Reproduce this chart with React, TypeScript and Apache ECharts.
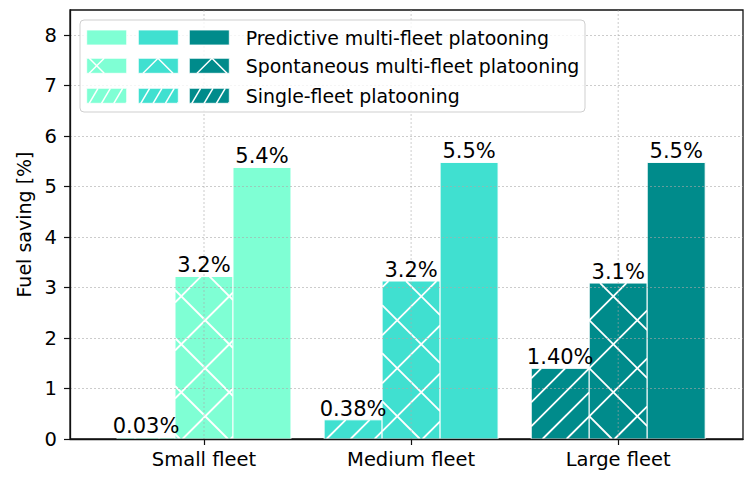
import React, { useEffect, useRef } from "react";
import * as echarts from "echarts";

// ---------- data ----------
const categories = ["Small fleet", "Medium fleet", "Large fleet"];
const categoryColors = ["#7FFFD4", "#40E0D0", "#008B8B"];
const seriesNames = [
  "Predictive multi-fleet platooning",
  "Spontaneous multi-fleet platooning",
  "Single-fleet platooning",
];
const singleFleet = [0.03, 0.38, 1.4];
const spontaneous = [3.22, 3.13, 3.09];
const predictive = [5.38, 5.48, 5.48];
const singleLabels = ["0.03%", "0.38%", "1.40%"];
const spontaneousLabels = ["3.2%", "3.2%", "3.1%"];
const predictiveLabels = ["5.4%", "5.5%", "5.5%"];
const yTicks = [0, 1, 2, 3, 4, 5, 6, 7, 8];
const yMax = 8.5;

// ---------- style ----------
const FONT = '"DejaVu Sans", sans-serif';
const BAR_FRACTION = 0.28;
const GRID_COLOR = "rgba(170,170,170,0.75)";
const AXIS_COLOR = "#111";

type HatchSpec = { dir: 1 | -1; k: number; step: number; anchor: number };
const SLASH_HATCH: HatchSpec[] = [{ dir: 1, k: 1, step: 24, anchor: 21.5 }];
const CROSS_HATCH: HatchSpec[] = [
  { dir: 1, k: 1, step: 48, anchor: 45.5 },
  { dir: -1, k: 1, step: 48, anchor: -19 },
];

function hatchLines(
  x0: number, y0: number, x1: number, y1: number,
  dir: 1 | -1, k: number, step: number, anchor: number
): number[][] {
  const segs: number[][] = [];
  if (y1 - y0 <= 0 || x1 - x0 <= 0) return segs;
  if (dir === 1) {
    const cMin = x0 + y0 / k, cMax = x1 + y1 / k;
    let c = anchor + Math.ceil((cMin - anchor) / step) * step;
    for (; c <= cMax; c += step) {
      const ya = Math.max(y0, k * (c - x1));
      const yb = Math.min(y1, k * (c - x0));
      if (yb > ya) segs.push([c - ya / k, ya, c - yb / k, yb]);
    }
  } else {
    const cMin = x0 - y1 / k, cMax = x1 - y0 / k;
    let c = anchor + Math.ceil((cMin - anchor) / step) * step;
    for (; c <= cMax; c += step) {
      const ya = Math.max(y0, k * (x0 - c));
      const yb = Math.min(y1, k * (x1 - c));
      if (yb > ya) segs.push([c + ya / k, ya, c + yb / k, yb]);
    }
  }
  return segs;
}

function barGeom(api: any, g: number) {
  const i = api.value(0) as number;
  const v = api.value(1) as number;
  const base = api.coord([i, 0]);
  const top = api.coord([i, v]);
  const band = api.coord([1, 0])[0] - api.coord([0, 0])[0];
  const w = band * BAR_FRACTION;
  const cx = base[0] + (g - 1) * w;
  return { i, cx, x0: cx - w / 2, x1: cx + w / 2, y0: top[1], y1: base[1], w };
}

function barSeries(g: number, values: number[], hatch: HatchSpec[]) {
  return {
    type: "custom",
    xAxisIndex: 1,
    yAxisIndex: 1,
    z: 2,
    silent: true,
    data: values.map((v, i) => [i, v]),
    encode: { x: 0, y: 1 },
    renderItem: (_params: any, api: any) => {
      const b = barGeom(api, g);
      const children: any[] = [
        {
          type: "rect",
          shape: { x: b.x0, y: b.y0, width: b.w, height: b.y1 - b.y0 },
          style: { fill: categoryColors[b.i], stroke: "#ffffff", lineWidth: 1 },
        },
      ];
      for (const h of hatch) {
        for (const s of hatchLines(b.x0, b.y0, b.x1, b.y1, h.dir, h.k, h.step, h.anchor)) {
          children.push({
            type: "line",
            shape: { x1: s[0], y1: s[1], x2: s[2], y2: s[3] },
            style: { stroke: "#ffffff", lineWidth: 1.8 },
          });
        }
      }
      return { type: "group", children };
    },
  };
}

function labelSeries(g: number, values: number[], labels: string[]) {
  return {
    type: "custom",
    xAxisIndex: 1,
    yAxisIndex: 1,
    z: 4,
    silent: true,
    data: values.map((v, i) => [i, v]),
    encode: { x: 0, y: 1 },
    renderItem: (params: any, api: any) => {
      const b = barGeom(api, g);
      return {
        type: "text",
        x: b.cx,
        y: b.y0 - 0.5,
        style: {
          text: labels[params.dataIndex],
          fill: "#000",
          fontSize: 21,
          fontFamily: FONT,
          align: "center",
          verticalAlign: "bottom",
        },
      };
    },
  };
}

function buildLegend() {
  const els: any[] = [];
  els.push({
    type: "rect",
    z: 10,
    shape: { x: 80, y: 20, width: 505, height: 92, r: 4 },
    style: { fill: "rgba(255,255,255,0.8)", stroke: "#cfcfcf", lineWidth: 1 },
  });
  const colX = [86.7, 138.3, 189.3];
  const rowY = [30, 58.3, 88.3];
  const sw = 40, sh = 15;
  const crossAnchors = [[10, 7.5], [19.7, 0], [22.7, 0]];
  for (let r = 0; r < 3; r++) {
    for (let c = 0; c < 3; c++) {
      const X = colX[c], Y = rowY[r];
      els.push({
        type: "rect",
        z: 10,
        shape: { x: X, y: Y, width: sw, height: sh },
        style: { fill: categoryColors[c], stroke: "#ffffff", lineWidth: 0.8 },
      });
      let specs: HatchSpec[] = [];
      if (r === 1) {
        const px = X + crossAnchors[c][0], py = Y + crossAnchors[c][1];
        specs = [
          { dir: 1, k: 1, step: 48, anchor: px + py },
          { dir: -1, k: 1, step: 48, anchor: px - py },
        ];
      } else if (r === 2) {
        specs = [{ dir: 1, k: 1.7, step: 12.3, anchor: X + 2.5 + (Y + sh) / 1.7 }];
      }
      for (const h of specs) {
        for (const s of hatchLines(X, Y, X + sw, Y + sh, h.dir, h.k, h.step, h.anchor)) {
          els.push({
            type: "line",
            z: 11,
            shape: { x1: s[0], y1: s[1], x2: s[2], y2: s[3] },
            style: { stroke: "#ffffff", lineWidth: 1.5 },
          });
        }
      }
    }
    els.push({
      type: "text",
      z: 11,
      x: 245.7,
      y: rowY[r] + sh / 2 + 0.5,
      style: {
        text: seriesNames[r],
        fill: "#000",
        fontSize: 18.9,
        fontFamily: FONT,
        verticalAlign: "middle",
      },
    });
  }
  return els;
}

function buildOption() {
  return {
    animation: false,
    textStyle: { fontFamily: FONT },
    grid: [
      {
        left: 70, right: 5, top: 10, bottom: 40,
        show: true, borderColor: AXIS_COLOR, borderWidth: 1.3,
        backgroundColor: "transparent",
        containLabel: false, outerBoundsMode: "none",
      },
      {
        left: 100.45, right: 26.25, top: 10, bottom: 40,
        containLabel: false, outerBoundsMode: "none",
      },
    ],
    xAxis: [
      {
        type: "value", gridIndex: 0, min: 0, max: 1, z: 5,
        axisLine: { show: true, lineStyle: { color: AXIS_COLOR, width: 1.3 } },
        axisTick: { show: false },
        axisLabel: { show: false },
        splitLine: { show: false },
      },
      {
        type: "category", gridIndex: 1, data: categories, boundaryGap: true,
        axisLine: { show: false },
        axisTick: { show: true, alignWithLabel: true, length: 6, lineStyle: { color: AXIS_COLOR, width: 1.2 } },
        axisLabel: { fontSize: 19.5, color: "#000", margin: 10, fontFamily: FONT },
        splitLine: { show: false },
      },
    ],
    yAxis: [
      {
        type: "value", gridIndex: 0, min: 0, max: yMax, interval: 1, z: 3,
        name: "Fuel saving [%]", nameLocation: "middle", nameGap: 32,
        nameTextStyle: { fontSize: 19, color: "#000", fontFamily: FONT },
        axisLine: { show: true, lineStyle: { color: AXIS_COLOR, width: 1.3 } },
        axisTick: { show: true, length: 6, lineStyle: { color: AXIS_COLOR, width: 1.2 }, customValues: yTicks },
        axisLabel: {
          fontSize: 19.5, color: "#000", margin: 13, fontFamily: FONT,
          customValues: yTicks,
          formatter: (v: number) => (yTicks.indexOf(v) >= 0 ? String(v) : ""),
        },
        splitLine: { show: true, lineStyle: { color: GRID_COLOR, width: 0.8, type: [2, 2] } },
      },
      { type: "value", gridIndex: 1, min: 0, max: yMax, show: false },
    ],
    graphic: { elements: buildLegend() },
    series: [
      barSeries(0, singleFleet, SLASH_HATCH),
      barSeries(1, spontaneous, CROSS_HATCH),
      barSeries(2, predictive, []),
      {
        type: "custom",
        xAxisIndex: 1,
        yAxisIndex: 1,
        z: 3,
        silent: true,
        data: categories.map((_, i) => [i, 0]),
        encode: { x: 0, y: 1 },
        renderItem: (_p: any, api: any) => {
          const i = api.value(0) as number;
          const t = api.coord([i, yMax]);
          const b = api.coord([i, 0]);
          return {
            type: "line",
            shape: { x1: t[0], y1: t[1], x2: b[0], y2: b[1] },
            style: { stroke: GRID_COLOR, lineWidth: 0.8, lineDash: [2, 2] },
          };
        },
      },
      labelSeries(0, singleFleet, singleLabels),
      labelSeries(1, spontaneous, spontaneousLabels),
      labelSeries(2, predictive, predictiveLabels),
    ],
  };
}

export default function App() {
  const ref = useRef<HTMLDivElement>(null);
  useEffect(() => {
    document.body.style.margin = "0";
    const chart = echarts.init(ref.current as HTMLDivElement, null, { renderer: "svg" });
    chart.setOption(buildOption() as any);
    return () => chart.dispose();
  }, []);
  return <div ref={ref} style={{ width: 748, height: 479 }} />;
}
